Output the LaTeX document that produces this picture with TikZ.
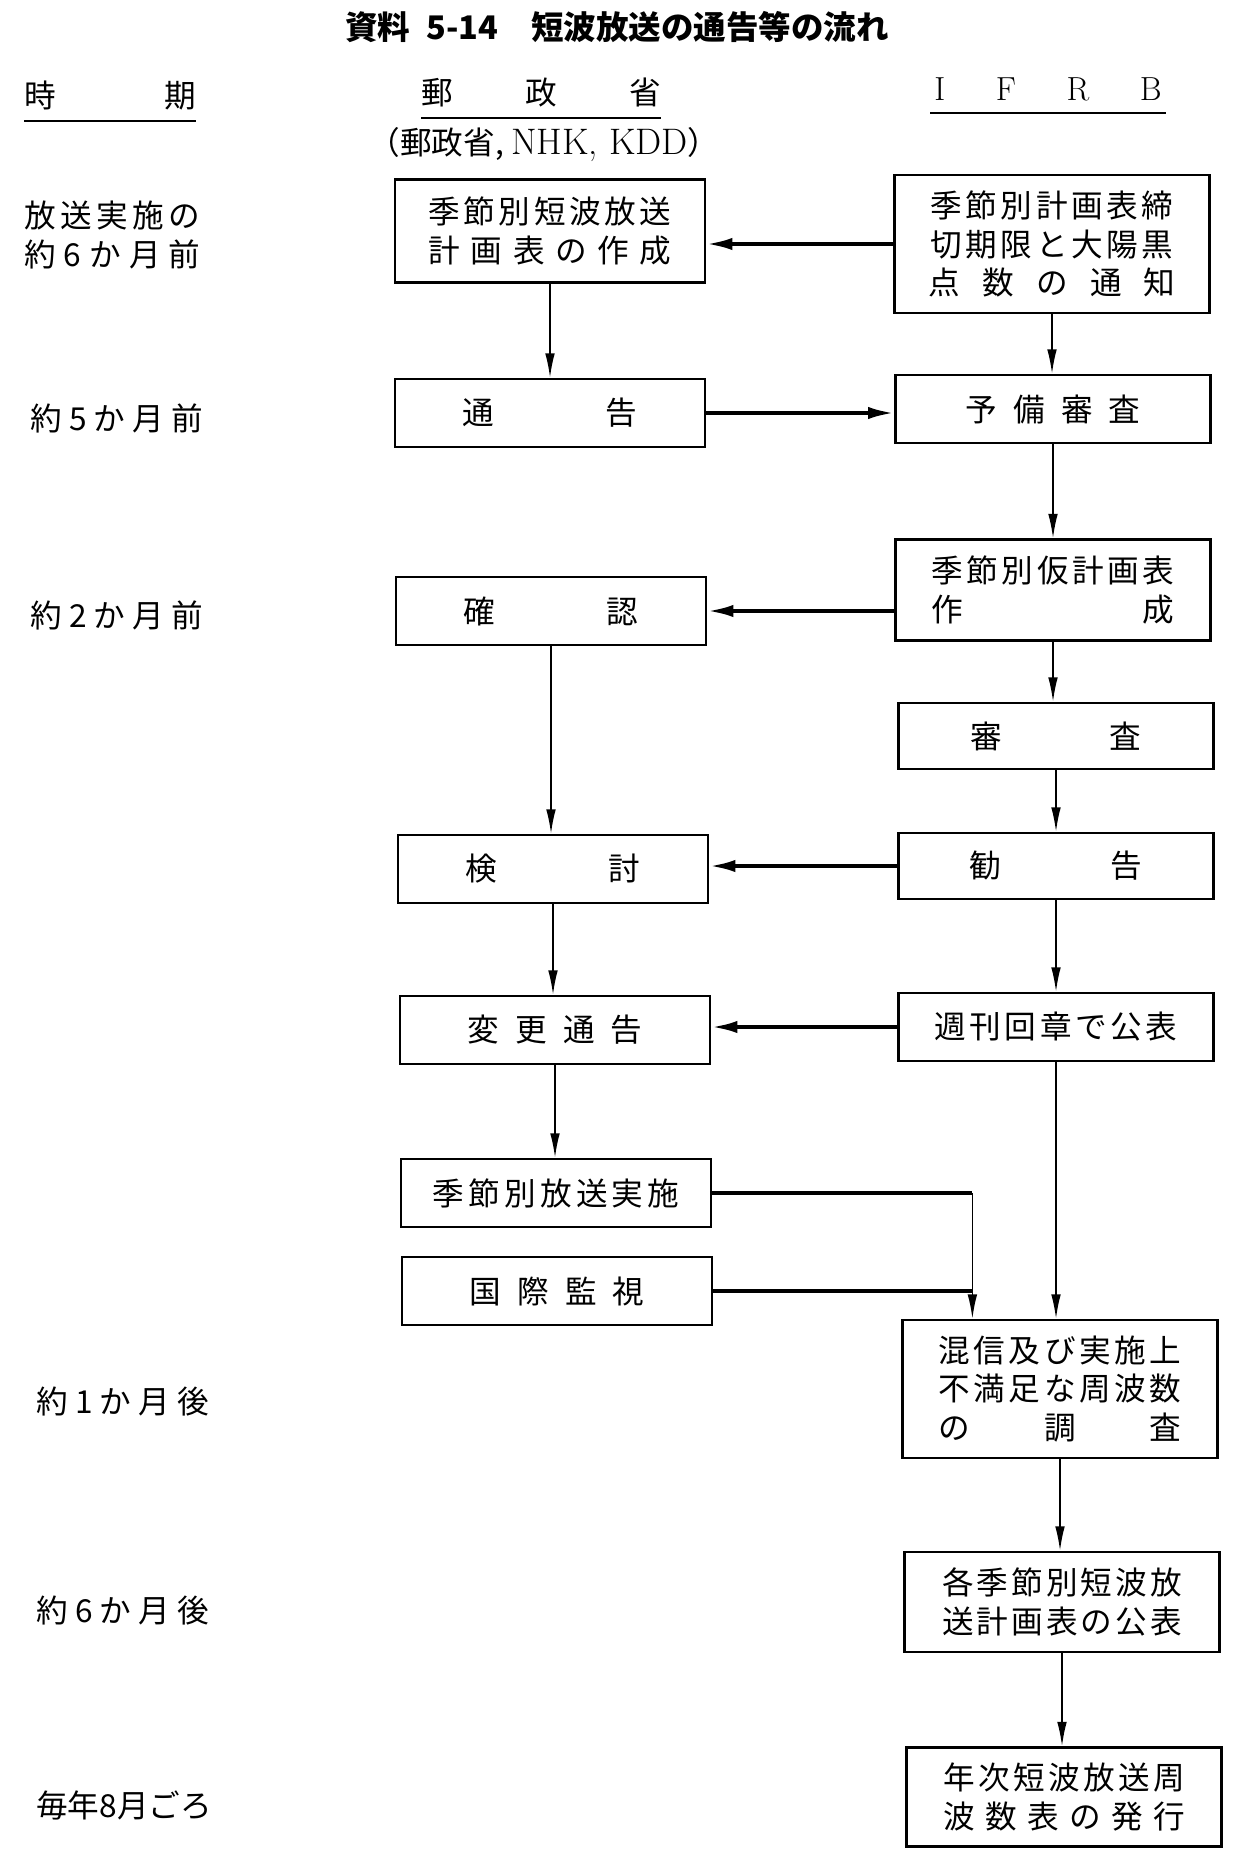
\documentclass[tikz,border=0pt]{standalone}
\usepackage{fontspec}
\newfontfamily\jp{Noto Sans CJK JP}
\usetikzlibrary{arrows.meta,calc}

% spread the characters of #2 over the width #1
\newcommand\spread[2]{\makebox[#1][s]{\expandafter\spreadgo#2\relax}}
\def\spreadgo#1{#1\spreadnx}
\def\spreadnx#1{\ifx\relax#1\else\hfill#1\expandafter\spreadnx\fi}

\tikzset{
  box/.style={draw, line width=1.3pt, minimum width=6.2cm, minimum height=1.36cm, inner sep=0pt, align=center, font=\jp\fontsize{18}{22}\selectfont},
  rbox/.style={box, minimum width=6.3cm},
  lbl/.style={anchor=west, inner sep=0pt, align=left, font=\jp\fontsize{18}{22}\selectfont},
  head/.style={inner sep=0pt, font=\jp\fontsize{18}{22}\selectfont},
  uline/.style={line width=1.4pt},
  down/.style={line width=1pt, -{Latex[length=14pt,width=5.5pt]}},
  back/.style={line width=2.2pt, -{Latex[length=15pt,width=7pt]}},
  feedline/.style={line width=2pt},
}

\begin{document}
\begin{tikzpicture}[x=0.02cm, y=-0.02cm]
\useasboundingbox (0,0) rectangle (1237,1865);

\node[font=\jp\bfseries\fontsize{18.5}{22}\selectfont] (title) at (617,27) {資料\enspace 5-14\quad 短波放送の通告等の流れ};

% column heads
\node[head] (hdtime) at (110,96) {\spread{3.44cm}{時期}};
\node[head] (hdmpt) at (541,93) {\spread{4.8cm}{郵政省}};
\node[head, font=\fontsize{19}{22}\selectfont] (hdifrb) at (1048,89) {\spread{4.55cm}{IFRB}};
\node[head, font=\jp\fontsize{18}{20}\selectfont] (hdsub) at (544,145) {（郵政省, {\rmfamily\fontsize{21}{22}\selectfont NHK, KDD}）};
\draw[uline] (24,121) -- (196,121);
\draw[uline] (421,118) -- (661,118);
\draw[uline] (930,113) -- (1166,113);

% time
\node[lbl] (t6) at (24,235) {\spread{3.52cm}{放送実施の}\\ \spread{3.52cm}{約6か月前}};
\foreach \nm/\x/\y/\txt in {t5/30/418/約5か月前, t2/30/615/約2か月前, a1/36/1401/約1か月後, a6/36/1610/約6か月後, aug/36/1805/毎年8月ごろ}
  \node[lbl] (\nm) at (\x,\y) {\spread{3.46cm}{\txt}};

% ministry side
\node[box, minimum height=2.06cm] (plan) at (550,231) {\spread{4.86cm}{季節別短波放送}\\ \spread{4.86cm}{計画表の作成}};
\node[box] (notice) at (550,413) {\spread{3.5cm}{通告}};
\node[box] (confirm) at (551,611) {\spread{3.5cm}{確認}};
\node[box] (review) at (553,869) {\spread{3.5cm}{検討}};
\node[box] (change) at (555,1030) {\spread{3.5cm}{変更通告}};
\node[box] (start) at (556,1193) {\spread{4.94cm}{季節別放送実施}};
\node[box] (monitor) at (557,1291) {\spread{3.5cm}{国際監視}};

% IFRB side
\node[rbox, minimum height=2.76cm] (deadline) at (1052,244) {\spread{4.86cm}{季節別計画表締}\\ \spread{4.86cm}{切期限と大陽黒}\\ \spread{4.94cm}{点数の通知}};
\node[rbox] (prelim) at (1053,409) {\spread{3.5cm}{予備審査}};
\node[rbox, minimum height=2.02cm] (draft) at (1053,590) {\spread{4.86cm}{季節別仮計画表}\\ \spread{4.86cm}{作成}};
\node[rbox, minimum height=1.32cm] (exam) at (1056,736) {\spread{3.42cm}{審査}};
\node[rbox, minimum height=1.32cm] (advice) at (1056,866) {\spread{3.46cm}{勧告}};
\node[rbox] (weekly) at (1056,1027) {\spread{4.86cm}{週刊回章で公表}};
\node[rbox, minimum height=2.76cm] (survey) at (1060,1389) {\spread{4.86cm}{混信及び実施上}\\ \spread{4.86cm}{不満足な周波数}\\ \spread{4.86cm}{の調査}};
\node[rbox, minimum height=2cm] (publish) at (1062,1602) {\spread{4.8cm}{各季節別短波放}\\ \spread{4.8cm}{送計画表の公表}};
\node[rbox, minimum height=1.98cm] (issue) at (1064,1797) {\spread{4.84cm}{年次短波放送周}\\ \spread{4.84cm}{波数表の発行}};

% flow
\draw[back] (deadline.west) -- (deadline.west -| plan.east);
\draw[down] (plan.south) -- (plan.south |- notice.north);
\draw[back] (notice.east) -- (notice.east -| prelim.west);
\draw[back] (confirm.east -| draft.west) -- (confirm.east);
\draw[down] (confirm.south) -- (confirm.south |- review.north);
\draw[back] (advice.west) -- (advice.west -| review.east);
\draw[down] (review.south) -- (review.south |- change.north);
\draw[back] (weekly.west) -- (weekly.west -| change.east);
\draw[down] (change.south) -- (change.south |- start.north);
\foreach \a/\b in {deadline/prelim, prelim/draft, draft/exam, exam/advice, advice/weekly, weekly/survey, survey/publish, publish/issue}
  \draw[down] (\a.south) -- (\a.south |- \b.north);

\coordinate (merge) at ($(survey.north west)+(71,0)$);
\draw[feedline] (start.east) -- (start.east -| merge) coordinate (mtop);
\draw[down] (mtop) -- (merge);
\draw[feedline] (monitor.east) -- (monitor.east -| merge);
\end{tikzpicture}
\end{document}
